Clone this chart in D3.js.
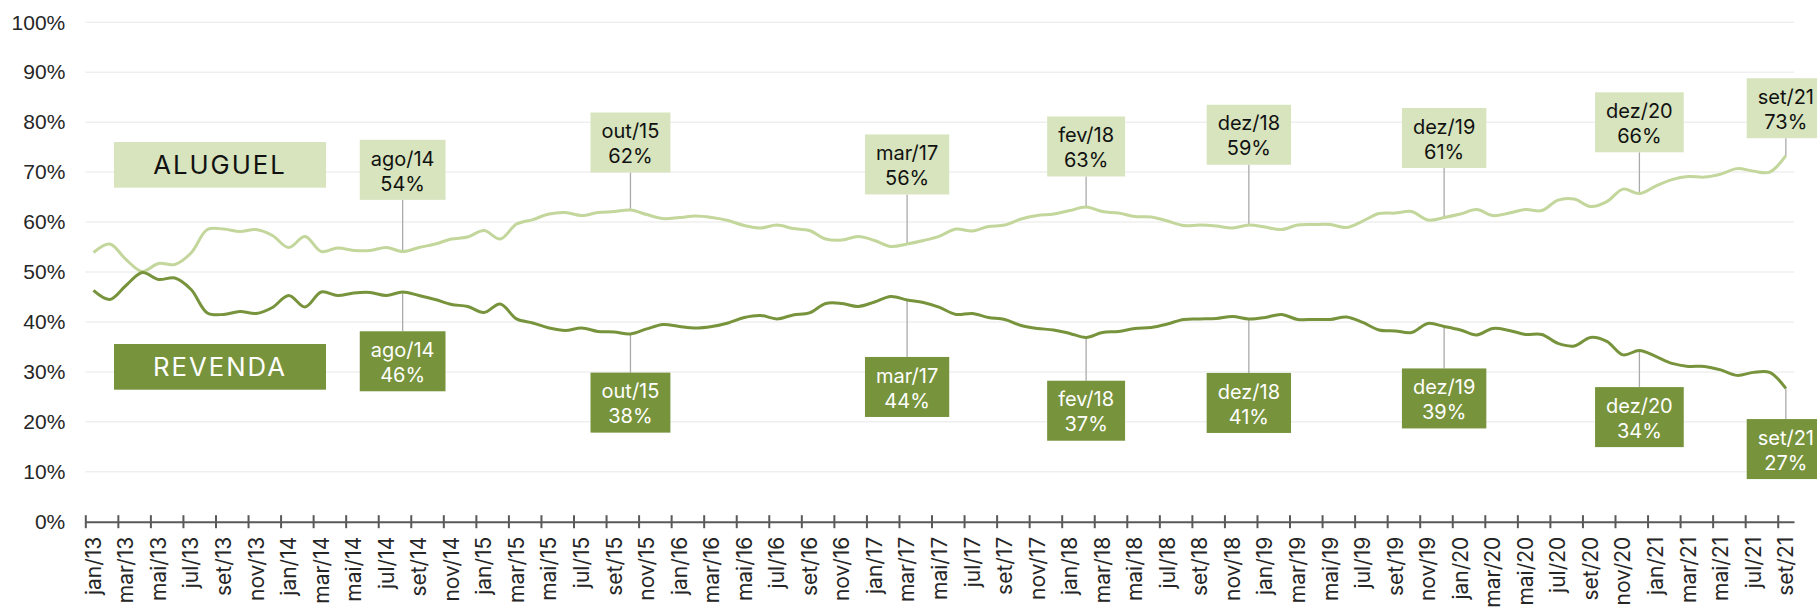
<!DOCTYPE html>
<html>
<head>
<meta charset="utf-8">
<script src="https://cdn.jsdelivr.net/npm/d3@7"></script>
<style>
  body { margin: 0; background: #fff; }
  svg { display: block; font-family: Inter, "Noto Sans", sans-serif; }
</style>
</head>
<body>
<div id="chart"></div>
<script>
// --- Data ---
const monthNames = ["jan", "fev", "mar", "abr", "mai", "jun", "jul", "ago", "set", "out", "nov", "dez"];
const years = ["13", "14", "15", "16", "17", "18", "19", "20", "21"];
const categories = years.flatMap((yr) => monthNames.map((m) => `${m}/${yr}`)).slice(0, 105); // jan/13 .. set/21

const aluguel = [
  53.9, 55.6, 52.5, 50.1, 51.7, 51.5, 53.8, 58.5, 58.6, 58.1, 58.5, 57.3,
  54.9, 57.1, 54.1, 54.8, 54.3, 54.3, 54.9, 54.1, 54.9, 55.6, 56.6, 57.0,
  58.3, 56.6, 59.6, 60.5, 61.6, 61.9, 61.3, 61.9, 62.1, 62.4, 61.5, 60.7,
  60.9, 61.2, 60.9, 60.3, 59.3, 58.8, 59.4, 58.7, 58.3, 56.6, 56.4, 57.1,
  56.3, 55.1, 55.6, 56.3, 57.2, 58.6, 58.2, 59.1, 59.4, 60.6, 61.3, 61.6,
  62.3, 63.0, 62.1, 61.8, 61.1, 61.0, 60.2, 59.3, 59.4, 59.2, 58.8, 59.4,
  59.0, 58.5, 59.4, 59.5, 59.5, 58.9, 60.2, 61.7, 61.8, 62.1, 60.4, 60.9,
  61.6, 62.5, 61.3, 61.8, 62.5, 62.3, 64.4, 64.6, 63.1, 64.1, 66.6, 65.7,
  67.2, 68.5, 69.1, 69.0, 69.6, 70.7, 70.2, 70.0, 73.3,
];

const revenda = [
  46.3, 44.5, 47.3, 49.9, 48.5, 48.8, 46.5, 41.8, 41.5, 42.1, 41.7, 42.9,
  45.3, 43.0, 46.0, 45.3, 45.8, 45.9, 45.3, 46.0, 45.3, 44.5, 43.5, 43.1,
  41.9, 43.6, 40.6, 39.8, 38.8, 38.3, 38.8, 38.1, 38.0, 37.6, 38.6, 39.5,
  39.1, 38.8, 39.1, 39.8, 40.9, 41.3, 40.6, 41.4, 41.8, 43.7, 43.7, 43.1,
  44.0, 45.1, 44.4, 43.9, 42.9, 41.5, 41.7, 40.9, 40.5, 39.3, 38.7, 38.4,
  37.7, 36.9, 37.9, 38.1, 38.7, 38.9, 39.6, 40.5, 40.6, 40.7, 41.1, 40.6,
  40.9, 41.5, 40.5, 40.5, 40.5, 41.0, 39.9, 38.4, 38.2, 37.9, 39.7, 39.1,
  38.4, 37.4, 38.7, 38.3, 37.5, 37.5, 35.7, 35.2, 36.9, 36.1, 33.4, 34.3,
  33.1, 31.7, 31.1, 31.1, 30.4, 29.3, 29.9, 29.9, 26.7,
];

const yTicks = [0, 10, 20, 30, 40, 50, 60, 70, 80, 90, 100];
const calloutMonths = ["ago/14", "out/15", "mar/17", "fev/18", "dez/18", "dez/19", "dez/20", "set/21"];

// --- Layout (pixels) ---
const W = 1817, H = 608;
const margin = { top: 22.3, right: 23, bottom: 86.3, left: 85.3 };
const gapAbove = [51.7, 37.6, 49.6, 30.6, 60.3, 49.6, 41.3, 17.4]; // point -> box bottom
const gapBelow = [39.3, 38.7, 57, 43.3, 54, 42, 36.7, 30.7]; // point -> box top

const LIGHT_LINE = "#c3d69b";
const LIGHT_FILL = "#d7e4bd";
const DARK = "#77933c";

const svg = d3.select("#chart").append("svg").attr("width", W).attr("height", H);

const x = d3.scaleLinear().domain([0, categories.length]).range([margin.left, W - margin.right]);
const y = d3.scaleLinear().domain([0, 100]).range([H - margin.bottom, margin.top]);
const cx = (i) => x(i + 0.5); // points sit in the middle of each month slot

// gridlines
svg.append("g")
  .selectAll("line")
  .data(yTicks.filter((d) => d > 0))
  .join("line")
  .attr("x1", x.range()[0])
  .attr("x2", x.range()[1])
  .attr("y1", (d) => y(d))
  .attr("y2", (d) => y(d))
  .attr("stroke", "#efefef")
  .attr("stroke-width", 1.5);

// y labels
const yAxis = svg.append("g")
  .attr("transform", `translate(${margin.left},0)`)
  .call(d3.axisLeft(y).tickValues(yTicks).tickFormat((d) => d + "%").tickSize(0).tickPadding(20));
yAxis.select(".domain").remove();
yAxis.selectAll("text")
  .attr("font-size", 21)
  .attr("font-family", null)
  .attr("fill", "#262626");

// x axis: ticks at the start of every second month, labels centred in the slot
const tickIdx = d3.range(0, categories.length, 2);
const xAxis = svg.append("g")
  .attr("transform", `translate(0,${y(0)})`)
  .call(d3.axisBottom(x).tickValues(tickIdx).tickSize(6.5).tickSizeOuter(0).tickFormat(""));
xAxis.select(".domain").attr("stroke", "#595959").attr("stroke-width", 2);
xAxis.selectAll(".tick line").attr("y1", -6.5).attr("stroke", "#595959").attr("stroke-width", 2);

svg.append("g")
  .selectAll("text")
  .data(tickIdx)
  .join("text")
  .attr("transform", (i) => `translate(${cx(i)},${y(0) + 15}) rotate(-90)`)
  .attr("text-anchor", "end")
  .attr("dy", "0.35em")
  .attr("font-size", 21)
  .attr("fill", "#262626")
  .text((i) => categories[i]);

// leader lines
const calloutIdx = calloutMonths.map((m) => categories.indexOf(m));
const leaders = svg.append("g").attr("stroke", "#aaaaaa").attr("stroke-width", 1.3);
calloutIdx.forEach((i, k) => {
  leaders.append("line")
    .attr("x1", cx(i)).attr("x2", cx(i))
    .attr("y1", y(aluguel[i])).attr("y2", y(aluguel[i]) - gapAbove[k]);
  leaders.append("line")
    .attr("x1", cx(i)).attr("x2", cx(i))
    .attr("y1", y(revenda[i])).attr("y2", y(revenda[i]) + gapBelow[k]);
});

// series
const line = d3.line()
  .x((d, i) => cx(i))
  .y((d) => y(d))
  .curve(d3.curveCatmullRom.alpha(0.5));

svg.append("path").datum(aluguel)
  .attr("fill", "none").attr("stroke", LIGHT_LINE).attr("stroke-width", 3).attr("d", line);
svg.append("path").datum(revenda)
  .attr("fill", "none").attr("stroke", DARK).attr("stroke-width", 3).attr("d", line);

// callout boxes
const BOX_H = 60, PAD = 11;
function callout(i, val, top, fill, color) {
  const g = svg.append("g");
  const rect = g.append("rect").attr("fill", fill);
  const t1 = g.append("text").attr("x", cx(i)).attr("y", top + 25.7).text(categories[i]);
  const t2 = g.append("text").attr("x", cx(i)).attr("y", top + 50.7).text(Math.round(val) + "%");
  g.selectAll("text").attr("text-anchor", "middle").attr("font-size", 20).attr("fill", color);
  const w = Math.max(t1.node().getComputedTextLength(), t2.node().getComputedTextLength()) + 2 * PAD;
  rect.attr("x", cx(i) - w / 2).attr("y", top).attr("width", w).attr("height", BOX_H);
}
calloutIdx.forEach((i, k) => {
  callout(i, aluguel[i], y(aluguel[i]) - gapAbove[k] - BOX_H, LIGHT_FILL, "#111");
  callout(i, revenda[i], y(revenda[i]) + gapBelow[k], DARK, "#fff");
});

// series legend boxes
function legendBox(label, top, fill, color) {
  svg.append("rect").attr("x", 114).attr("y", top).attr("width", 212).attr("height", 45.7).attr("fill", fill);
  svg.append("text")
    .attr("x", 220).attr("y", top + 32)
    .attr("text-anchor", "middle")
    .attr("font-size", 25.7)
    .attr("letter-spacing", 2)
    .attr("fill", color)
    .text(label);
}
legendBox("ALUGUEL", 142, LIGHT_FILL, "#111");
legendBox("REVENDA", 344, DARK, "#fff");
</script>
</body>
</html>
